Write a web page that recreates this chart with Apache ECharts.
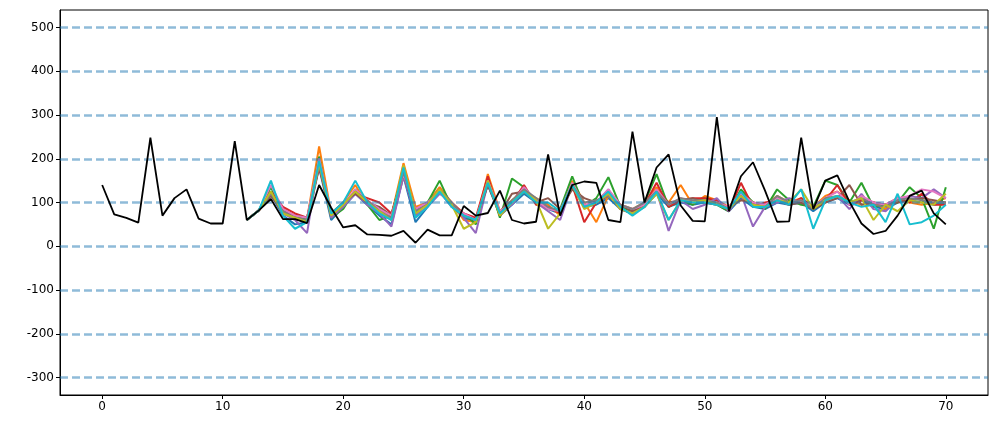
<!DOCTYPE html>
<html><head><meta charset="utf-8">
<script src="https://cdn.jsdelivr.net/npm/echarts@6/dist/echarts.min.js"></script>
<style>html,body{margin:0;padding:0;background:#fff}#c{width:997px;height:428px}</style>
</head><body><div id="c"></div>
<script>
const actual = [140,73,65,54,248,70,110,130,63,52,52,240,60,82,108,62,62,53,140,88,43,48,27,26,24,35,8,38,25,25,92,70,76,127,60,52,56,210,70,140,148,145,60,55,262,100,180,210,93,58,57,295,80,160,192,127,56,57,248,85,150,162,102,52,28,35,70,115,127,75,50];
const sampleStart = 12;
const s0 = [60,82,118,70,50,55,180,60,90,120,95,70,50,160,55,90,125,90,65,55,140,70,95,120,100,85,75,135,90,95,110,85,75,90,120,90,100,95,100,95,80,110,90,85,100,95,100,80,100,110,95,105,90,85,100,105,100,95,100];
const s1 = [60,82,120,85,70,62,228,75,100,140,95,85,70,190,90,100,135,100,60,55,165,80,105,125,110,95,70,150,100,55,115,95,85,100,135,100,140,95,115,105,90,125,100,95,115,100,110,90,115,125,105,95,100,85,110,100,95,100,110];
const s2 = [60,82,135,75,68,60,205,65,85,130,95,60,70,175,80,100,150,90,75,50,155,65,155,135,100,85,85,160,90,110,158,90,80,100,165,90,105,95,110,95,80,130,100,85,130,105,95,90,150,140,100,145,90,95,100,135,110,40,135];
const s3 = [60,82,125,90,75,65,180,75,95,120,110,100,75,165,85,95,125,100,75,65,160,70,100,140,95,90,75,140,55,100,125,85,75,95,145,90,105,110,110,105,80,145,90,100,105,95,110,90,105,140,95,105,100,95,110,100,120,95,95];
const s4 = [60,82,120,75,60,30,200,65,90,120,95,75,45,160,70,90,120,100,65,30,145,80,95,130,100,80,60,140,90,100,130,85,75,90,125,35,105,85,95,110,80,120,45,90,100,110,100,90,105,115,85,120,85,80,105,115,110,130,110];
const s5 = [60,82,115,80,70,65,185,75,100,120,100,90,70,165,75,100,125,95,70,60,140,75,120,125,100,110,85,130,110,100,115,95,80,95,120,100,105,110,100,95,90,105,100,95,110,95,100,85,100,110,140,95,100,95,100,105,110,105,100];
const s6 = [60,82,140,85,70,65,200,75,95,130,105,85,70,165,85,100,125,90,75,60,150,80,100,135,105,85,80,145,95,100,130,95,85,95,130,95,110,100,105,100,90,120,100,95,110,100,105,90,110,125,95,115,100,95,110,115,130,125,110];
const s7 = [60,82,120,80,65,60,185,70,95,125,105,80,65,170,80,95,130,100,70,60,145,75,105,130,110,90,80,140,100,105,115,95,85,100,125,95,110,105,105,100,85,115,95,90,115,100,105,85,110,115,100,110,95,90,105,110,105,100,100];
const s8 = [60,82,125,75,65,55,190,70,95,125,100,80,60,185,75,95,130,95,40,55,150,70,100,125,105,40,75,140,85,100,120,85,75,90,120,60,105,100,105,95,85,115,95,90,105,100,130,85,105,115,100,110,60,95,80,105,100,95,120];
const s9 = [60,82,150,70,40,55,195,75,100,150,100,75,60,180,65,90,125,90,70,60,145,75,100,125,100,100,80,140,90,100,125,90,70,90,125,60,105,100,100,95,85,125,90,90,105,95,130,40,105,115,100,90,95,55,120,50,55,70,95];
const samples = [s0,s1,s2,s3,s4,s5,s6,s7,s8,s9];
const colors = ['#1f77b4','#ff7f0e','#2ca02c','#d62728','#9467bd','#8c564b','#e377c2','#7f7f7f','#bcbd22','#17becf'];
const hlines = [-300,-200,-100,0,100,200,300,400,500];
const yTicks = [-300,-200,-100,0,100,200,300,400,500];
const xTicks = [0,10,20,30,40,50,60,70];

const series = samples.map((s,i)=>({
  type:'line', data:s.map((v,j)=>[sampleStart+j,v]), showSymbol:false, silent:true,
  lineStyle:{color:colors[i],width:2}, z:2
}));
series.push({
  type:'line', data:actual.map((v,i)=>[i,v]), showSymbol:false,
  lineStyle:{color:'#000',width:1.8}, z:5,
  markLine:{silent:true,symbol:'none',label:{show:false},
    lineStyle:{color:'rgba(31,119,180,0.5)',type:[8,4],width:2.6},
    data:hlines.map(v=>({yAxis:v}))}
});
const chart = echarts.init(document.getElementById('c'));
chart.setOption({
  animation:false,
  grid:{left:60,right:9,top:10,bottom:33,show:true,borderColor:'#000',borderWidth:1},
  xAxis:{type:'value',min:-3.5,max:73.5,splitLine:{show:false},
    axisLine:{onZero:false,lineStyle:{color:'#000'}},
    axisTick:{customValues:xTicks,length:4,lineStyle:{color:'#000'}},
    axisLabel:{customValues:xTicks,color:'#000',fontSize:12,margin:6,fontFamily:'DejaVu Sans'}},
  yAxis:{type:'value',min:-340,max:540,splitLine:{show:false},
    axisLine:{show:true,onZero:false,lineStyle:{color:'#000'}},
    axisTick:{show:true,length:4,customValues:yTicks,lineStyle:{color:'#000'}},
    axisLabel:{customValues:yTicks,color:'#000',fontSize:12,margin:6,fontFamily:'DejaVu Sans'}},
  series
});
</script></body></html>
